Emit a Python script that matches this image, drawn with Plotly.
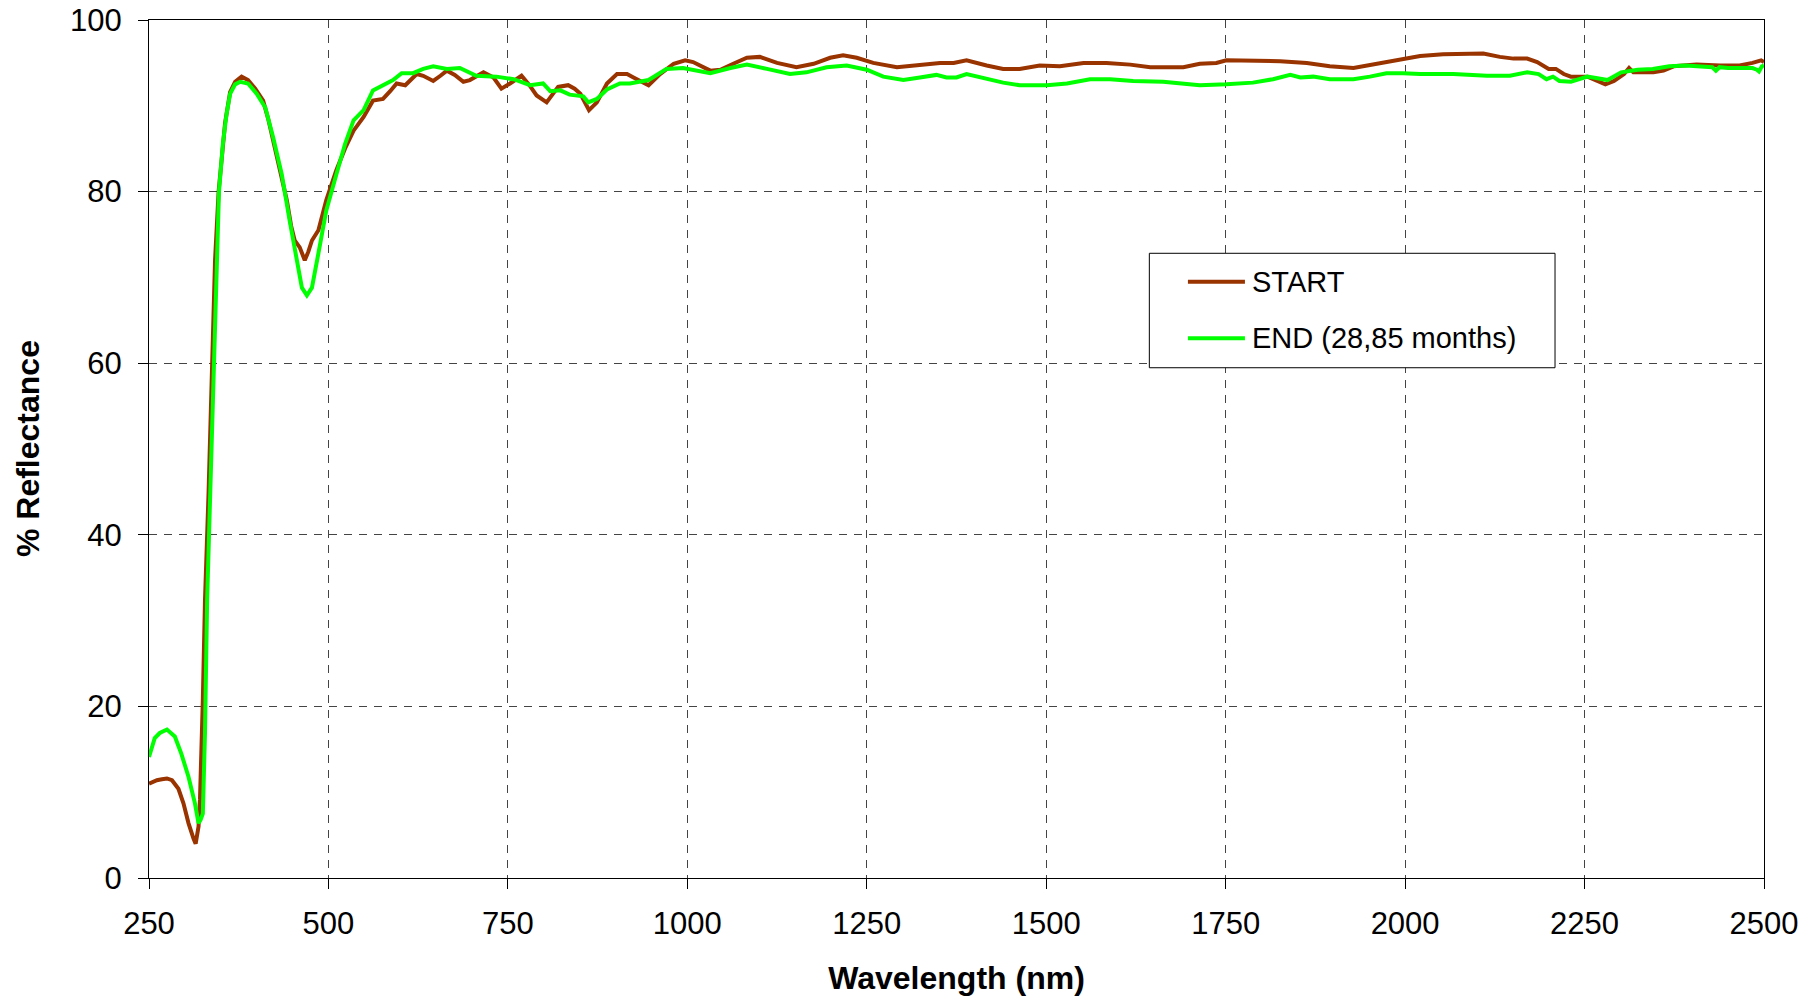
import plotly.graph_objects as go

# ---------------- data ----------------
start_name = "START"
end_name = "END (28,85 months)"

start_wl = [250, 255, 261, 268, 275, 282, 291, 298, 305, 312, 315, 319, 321, 325, 328, 333, 338, 342,
            347, 352, 356, 363, 370, 379, 388, 398, 409, 416, 423, 432, 442, 448, 453, 460, 467, 472,
            477, 486, 497, 511, 523, 535, 549, 562, 576, 586, 595, 607, 615, 623, 632, 646, 656, 665,
            676, 688, 697, 707, 716, 730, 741, 753, 769, 780, 790, 804, 812, 820, 834, 843, 851, 863,
            874, 888, 902, 916, 925, 946, 962, 981, 997, 1008, 1032, 1046, 1064, 1083, 1101, 1125,
            1152, 1176, 1199, 1217, 1236, 1259, 1292, 1324, 1352, 1371, 1389, 1417, 1440, 1463, 1491,
            1519, 1552, 1584, 1617, 1645, 1691, 1714, 1737, 1751, 1788, 1826, 1863, 1895, 1928, 1956,
            1984, 2021, 2053, 2081, 2109, 2132, 2151, 2170, 2184, 2200, 2210, 2221, 2231, 2254, 2268,
            2279, 2291, 2305, 2312, 2314, 2318, 2346, 2360, 2374, 2406, 2439, 2466, 2484, 2496, 2500]
start_refl = [11.0, 11.2, 11.4, 11.5, 11.6, 11.4, 10.4, 8.7, 6.4, 4.6, 4.0, 6.0, 9.1, 20.7, 32.4, 45.0,
              61.5, 72.0, 80.0, 85.0, 88.0, 91.6, 92.8, 93.4, 93.0, 92.0, 90.6, 88.5, 86.0, 82.5, 79.0,
              76.0, 74.3, 73.5, 72.0, 73.0, 74.3, 75.5, 79.0, 82.5, 85.0, 87.1, 88.7, 90.6, 90.8, 91.7,
              92.6, 92.4, 93.1, 93.7, 93.5, 92.9, 93.5, 94.1, 93.6, 92.8, 93.0, 93.5, 93.9, 93.3, 92.0,
              92.6, 93.5, 92.4, 91.2, 90.4, 91.3, 92.2, 92.4, 92.0, 91.4, 89.5, 90.4, 92.6, 93.7, 93.7,
              93.3, 92.4, 93.7, 94.9, 95.3, 95.1, 94.1, 94.2, 94.9, 95.6, 95.7, 95.0, 94.5, 94.9, 95.6,
              95.9, 95.6, 95.0, 94.5, 94.8, 95.0, 95.0, 95.3, 94.7, 94.3, 94.3, 94.7, 94.6, 95.0, 95.0,
              94.8, 94.5, 94.5, 94.9, 95.0, 95.3, 95.3, 95.2, 95.0, 94.6, 94.4, 94.8, 95.3, 95.8, 96.0,
              96.1, 96.1, 95.7, 95.5, 95.5, 95.1, 94.3, 94.3, 93.7, 93.4, 93.4, 92.9, 92.5, 92.9, 93.7,
              94.4, 94.2, 93.9, 93.9, 94.1, 94.6, 94.8, 94.7, 94.7, 95.0, 95.3, 95.1]

end_wl = [250, 254, 258, 265, 275, 286, 295, 305, 314, 319, 322, 325, 328, 331, 336, 341, 347.5, 353,
          358, 363, 370, 377, 388, 400, 412, 423, 435, 446, 456, 463, 470, 477, 486, 497, 511, 523,
          535, 549, 562, 576, 590, 602, 618, 632, 646, 665, 683, 706, 734, 758, 781, 799, 809, 823,
          836, 855, 862, 874, 888, 906, 920, 946, 971, 994, 1013, 1032, 1060, 1083, 1111, 1143, 1166,
          1194, 1222, 1250, 1273, 1301, 1324, 1347, 1361, 1375, 1389, 1417, 1440, 1463, 1501, 1529,
          1561, 1589, 1621, 1663, 1714, 1751, 1788, 1816, 1840, 1854, 1872, 1895, 1928, 1951, 1974,
          1997, 2021, 2067, 2114, 2146, 2170, 2186, 2197, 2206, 2215, 2231, 2254, 2268, 2282, 2301,
          2324, 2345, 2368, 2391, 2410, 2428, 2433, 2438, 2450, 2461, 2472, 2484, 2490, 2493, 2497, 2500]
end_refl = [14.1, 15.3, 16.3, 16.9, 17.3, 16.5, 14.5, 11.8, 8.7, 6.4, 6.8, 7.5, 16.9, 32.4, 48.0, 61.5,
            80.0, 85.6, 89.0, 91.4, 92.5, 92.8, 92.6, 91.4, 89.8, 86.3, 82.0, 76.6, 71.6, 68.8, 67.9,
            68.8, 72.8, 77.8, 82.0, 85.5, 88.3, 89.5, 91.8, 92.4, 93.0, 93.8, 93.8, 94.3, 94.6, 94.3,
            94.4, 93.5, 93.4, 93.1, 92.4, 92.6, 91.7, 91.8, 91.3, 91.1, 90.4, 90.8, 91.9, 92.6, 92.6,
            93.0, 94.3, 94.4, 94.1, 93.8, 94.4, 94.8, 94.3, 93.7, 93.9, 94.5, 94.7, 94.2, 93.4, 93.0,
            93.3, 93.6, 93.3, 93.3, 93.7, 93.1, 92.7, 92.4, 92.4, 92.6, 93.1, 93.1, 92.9, 92.8, 92.4,
            92.5, 92.7, 93.1, 93.6, 93.3, 93.4, 93.1, 93.1, 93.4, 93.8, 93.8, 93.7, 93.7, 93.5, 93.5,
            93.9, 93.7, 93.1, 93.4, 92.9, 92.8, 93.4, 93.2, 93.0, 93.9, 94.2, 94.3, 94.6, 94.7, 94.6,
            94.5, 94.1, 94.5, 94.4, 94.4, 94.3, 94.4, 94.2, 94.0, 94.6, 94.7]

x_ticks = [250, 500, 750, 1000, 1250, 1500, 1750, 2000, 2250, 2500]
y_ticks = [0, 20, 40, 60, 80, 100]

start_color = "#993300"
end_color = "#00FF00"
FONT = "Liberation Sans, Arial, sans-serif"

# ---------------- figure ----------------
fig = go.Figure()
fig.add_trace(go.Scatter(x=start_wl, y=start_refl, mode="lines", name=start_name,
                         line=dict(color=start_color, width=4), showlegend=False))
fig.add_trace(go.Scatter(x=end_wl, y=end_refl, mode="lines", name=end_name,
                         line=dict(color=end_color, width=4), showlegend=False))

axis_common = dict(
    showline=True, linecolor="black", linewidth=1, mirror=True,
    ticks="outside", ticklen=10, tickcolor="black", tickwidth=1,
    showgrid=True, gridcolor="#444444", gridwidth=1, griddash="8px,7px",
    zeroline=False, automargin=False, ticklabeloverflow="allow",
    tickfont=dict(family=FONT, size=31, color="black"),
)

fig.update_xaxes(range=[250, 2500], tickvals=x_ticks, ticktext=[str(v) for v in x_ticks],
                 title=dict(text="<b>Wavelength (nm)</b>", font=dict(family=FONT, size=32, color="black"),
                            standoff=26),
                 ticklabelstandoff=8, **axis_common)
fig.update_yaxes(range=[0, 100], tickvals=y_ticks, ticktext=[str(v) for v in y_ticks],
                 ticklabelstandoff=10, **axis_common)

# y-axis title placed explicitly (rotated)
fig.add_annotation(xref="paper", yref="paper", x=-0.0749, y=0.5, text="<b>% Reflectance</b>",
                   textangle=-90, showarrow=False, xanchor="center", yanchor="middle",
                   font=dict(family=FONT, size=32, color="black"))

# manual legend (boxed, like the original)
lx0, lx1, ly0, ly1 = 0.6194, 0.8706, 0.5947, 0.7281
fig.add_shape(type="rect", xref="paper", yref="paper", x0=lx0, x1=lx1, y0=ly0, y1=ly1,
              line=dict(color="black", width=1), fillcolor="white", layer="above")
for name, color, yy in [(start_name, start_color, 0.695), (end_name, end_color, 0.629)]:
    fig.add_shape(type="line", xref="paper", yref="paper", x0=0.6433, x1=0.6786, y0=yy, y1=yy,
                  line=dict(color=color, width=4), layer="above")
    fig.add_annotation(xref="paper", yref="paper", x=0.6817, y=yy, text=name, showarrow=False,
                       xanchor="left", yanchor="middle",
                       font=dict(family=FONT, size=29, color="black"))

fig.update_layout(
    width=1811, height=999,
    margin=dict(l=149, r=47, t=20, b=121),
    paper_bgcolor="white", plot_bgcolor="white",
    font=dict(family=FONT, color="black"),
)

# remove the default 8px page margin so the figure fills the window exactly
fig.write_html("out.html", config={"displayModeBar": False},
               post_script="document.body.style.margin='0';document.body.style.overflow='hidden';")
